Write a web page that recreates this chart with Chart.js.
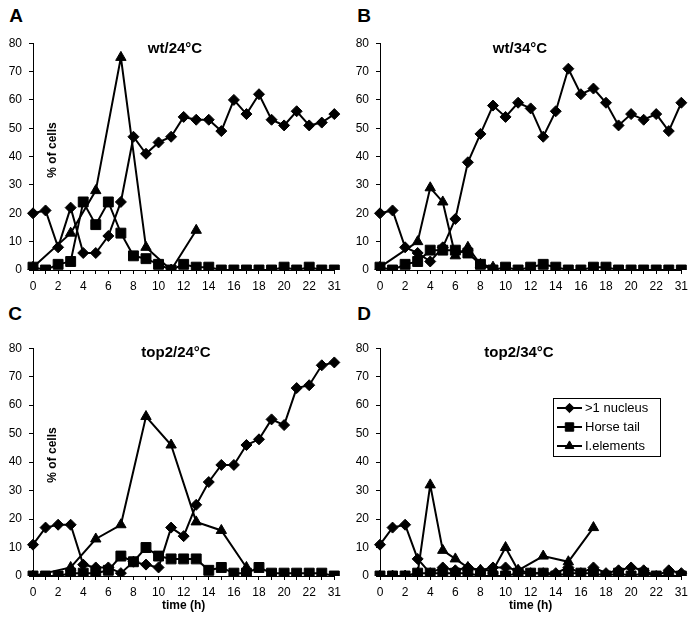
<!DOCTYPE html>
<html>
<head>
<meta charset="utf-8">
<script src="https://cdn.jsdelivr.net/npm/chart.js@4.4.1/dist/chart.umd.min.js"></script>
<style>
  body { margin: 0; background: #fff; }
  #fig { position: relative; width: 693px; height: 618px; font-family: "Liberation Sans", Arial, sans-serif; color: #000; }
  #fig canvas { position: absolute; }
  .lbl { position: absolute; line-height: 1; white-space: nowrap; transform: translate(-50%, -50%); font-weight: bold; }
  .panel { font-size: 19px; }
  .ttl { font-size: 15px; }
  .ylab { font-size: 12px; transform: translate(-50%, -50%) rotate(-90deg); }
</style>
</head>
<body>
<div id="fig">
  <canvas id="chart-a" width="346" height="269" style="left:0;top:29px"></canvas>
  <canvas id="chart-b" width="346" height="269" style="left:347px;top:29px"></canvas>
  <canvas id="chart-c" width="346" height="282" style="left:0;top:334px"></canvas>
  <canvas id="chart-d" width="346" height="282" style="left:347px;top:334px"></canvas>

  <div class="lbl panel" style="left:16px;top:15px">A</div>
  <div class="lbl panel" style="left:364px;top:15px">B</div>
  <div class="lbl panel" style="left:15px;top:313px">C</div>
  <div class="lbl panel" style="left:364px;top:313px">D</div>

  <div class="lbl ttl" style="left:175px;top:47px">wt/24°C</div>
  <div class="lbl ttl" style="left:520px;top:47px">wt/34°C</div>
  <div class="lbl ttl" style="left:176px;top:351px">top2/24°C</div>
  <div class="lbl ttl" style="left:519px;top:351px">top2/34°C</div>

  <div class="lbl ylab" style="left:52px;top:150px">% of cells</div>
  <div class="lbl ylab" style="left:52px;top:455px">% of cells</div>
</div>
<script>
// time points (h); the last one jumps to 31
const hours = ['0','1','2','3','4','5','6','7','8','9','10','11','12','13','14','15','16','17','18','19','20','21','22','23','31'];
const seriesNames = ['>1 nucleus', 'Horse tail', 'I.elements'];

// A - wt/24°C
const wt24Nucleus = [20,21,8,22,6,6,12,24,47,41,45,47,54,53,53,49,60,55,62,53,51,56,51,52,55];
const wt24Horse   = [1,0,2,3,24,16,24,13,5,4,2,0,2,1,1,0,0,0,0,0,1,0,1,0,0];
const wt24Elem    = [1,null,null,13,null,28,null,75,null,8,null,0,null,14,null,null,null,null,null,null,null,null,null,null,null];

// B - wt/34°C
const wt34Nucleus = [20,21,8,6,3,8,18,38,48,58,54,59,57,47,56,71,62,64,59,51,55,53,55,49,59];
const wt34Horse   = [1,0,2,3,7,7,7,6,2,0,1,0,1,2,1,0,0,1,1,0,0,0,0,0,0];
const wt34Elem    = [1,null,null,10,29,24,5,8,2,1,null,null,null,null,null,null,null,null,null,null,null,null,null,null,null];

// C - top2/24°C
const top24Nucleus = [11,17,18,18,4,3,3,1,5,4,3,17,14,25,33,39,39,46,48,55,53,66,67,74,75];
const top24Horse   = [0,0,0,1,1,1,2,7,5,10,7,6,6,6,2,3,1,1,3,1,1,1,1,1,0];
const top24Elem    = [0,null,null,3,null,13,null,18,null,56,null,46,null,19,null,16,null,3,null,null,null,null,null,null,null];

// D - top2/34°C
const top34Nucleus = [11,17,18,6,1,3,2,3,2,3,3,2,1,1,1,3,1,3,1,2,3,2,0,2,1];
const top34Horse   = [0,0,0,1,1,1,1,1,0,0,0,1,1,1,0,1,1,1,0,1,0,1,0,0,0];
const top34Elem    = [0,0,0,1,32,9,6,3,2,2,10,2,null,7,null,5,null,17,null,null,null,null,null,null,null];

const FONT = '"Liberation Sans", Arial, sans-serif';

function series(label, data, style, radius, order) {
  return {
    label, data, order,
    borderColor: '#000', backgroundColor: '#000', borderWidth: 2,
    pointStyle: style, pointRadius: radius,
    pointBackgroundColor: '#000', pointBorderColor: '#000', pointBorderWidth: 1,
    spanGaps: true, tension: 0
  };
}

// boxed legend drawn inside the plot (panel D only)
const boxLegend = {
  id: 'boxLegend',
  afterDatasetsDraw(chart, args, opts) {
    if (!opts.show) return;
    const ctx = chart.ctx;
    ctx.save();
    ctx.fillStyle = '#fff';
    ctx.fillRect(opts.x, opts.y, opts.w, opts.h);
    ctx.strokeStyle = '#000';
    ctx.lineWidth = 1;
    ctx.strokeRect(opts.x + 0.5, opts.y + 0.5, opts.w, opts.h);
    chart.data.datasets.forEach((ds, i) => {
      const cy = opts.y + opts.first + i * opts.gap;
      ctx.strokeStyle = '#000';
      ctx.lineWidth = 2;
      ctx.beginPath();
      ctx.moveTo(opts.x + 4, cy);
      ctx.lineTo(opts.x + 29, cy);
      ctx.stroke();
      ctx.fillStyle = '#000';
      ctx.lineWidth = 1;
      Chart.helpers.drawPoint(ctx, { pointStyle: ds.pointStyle, radius: ds.pointRadius * 0.85, rotation: 0, borderWidth: 1 }, opts.x + 16.5, cy);
      ctx.font = '13px ' + FONT;
      ctx.textBaseline = 'middle';
      ctx.textAlign = 'left';
      ctx.fillText(ds.label, opts.x + 32, cy);
    });
    ctx.restore();
  }
};

function makePanel(id, nucleus, horse, elem, bottomRow, legend) {
  new Chart(document.getElementById(id), {
    type: 'line',
    data: {
      labels: hours,
      datasets: [
        series(seriesNames[0], nucleus, 'rectRot', 5.5, 3),
        series(seriesNames[1], horse, 'rect', 7, 2),
        series(seriesNames[2], elem, 'triangle', 6, 1)
      ]
    },
    options: {
      responsive: false, animation: false,
      layout: {
        autoPadding: false,
        padding: { top: 8, right: id === 'chart-a' || id === 'chart-c' ? 11 : 10, left: 0, bottom: 0 }
      },
      scales: {
        x: {
          offset: false,
          border: { color: '#000', width: 1 },
          grid: { drawOnChartArea: false, tickLength: 4, color: '#000' },
          ticks: {
            autoSkip: false, maxRotation: 0, padding: 5, color: '#000',
            font: { family: FONT, size: 12 },
            callback: function (v, i) { return i % 2 === 0 ? this.getLabelForValue(v) : ''; }
          },
          title: {
            display: bottomRow, text: 'time (h)', color: '#000',
            font: { family: FONT, size: 12, weight: 'bold' },
            padding: { top: 0, bottom: 3 }
          },
          afterFit: s => { s.height = bottomRow ? 40 : 28; }
        },
        y: {
          min: 0, max: 80,
          border: { color: '#000', width: 1 },
          grid: { drawOnChartArea: false, tickLength: 4, color: '#000' },
          ticks: { stepSize: 10, padding: 7, color: '#000', font: { family: FONT, size: 12 } },
          afterFit: s => { s.width = 33; }
        }
      },
      plugins: {
        legend: { display: false },
        tooltip: { enabled: false },
        boxLegend: legend ? { show: true, x: 206, y: 64, w: 107, h: 58, first: 10, gap: 19 } : { show: false }
      }
    },
    plugins: [boxLegend]
  });
}

makePanel('chart-a', wt24Nucleus, wt24Horse, wt24Elem, false, false);
makePanel('chart-b', wt34Nucleus, wt34Horse, wt34Elem, false, false);
makePanel('chart-c', top24Nucleus, top24Horse, top24Elem, true, false);
makePanel('chart-d', top34Nucleus, top34Horse, top34Elem, true, true);
</script>
</body>
</html>
